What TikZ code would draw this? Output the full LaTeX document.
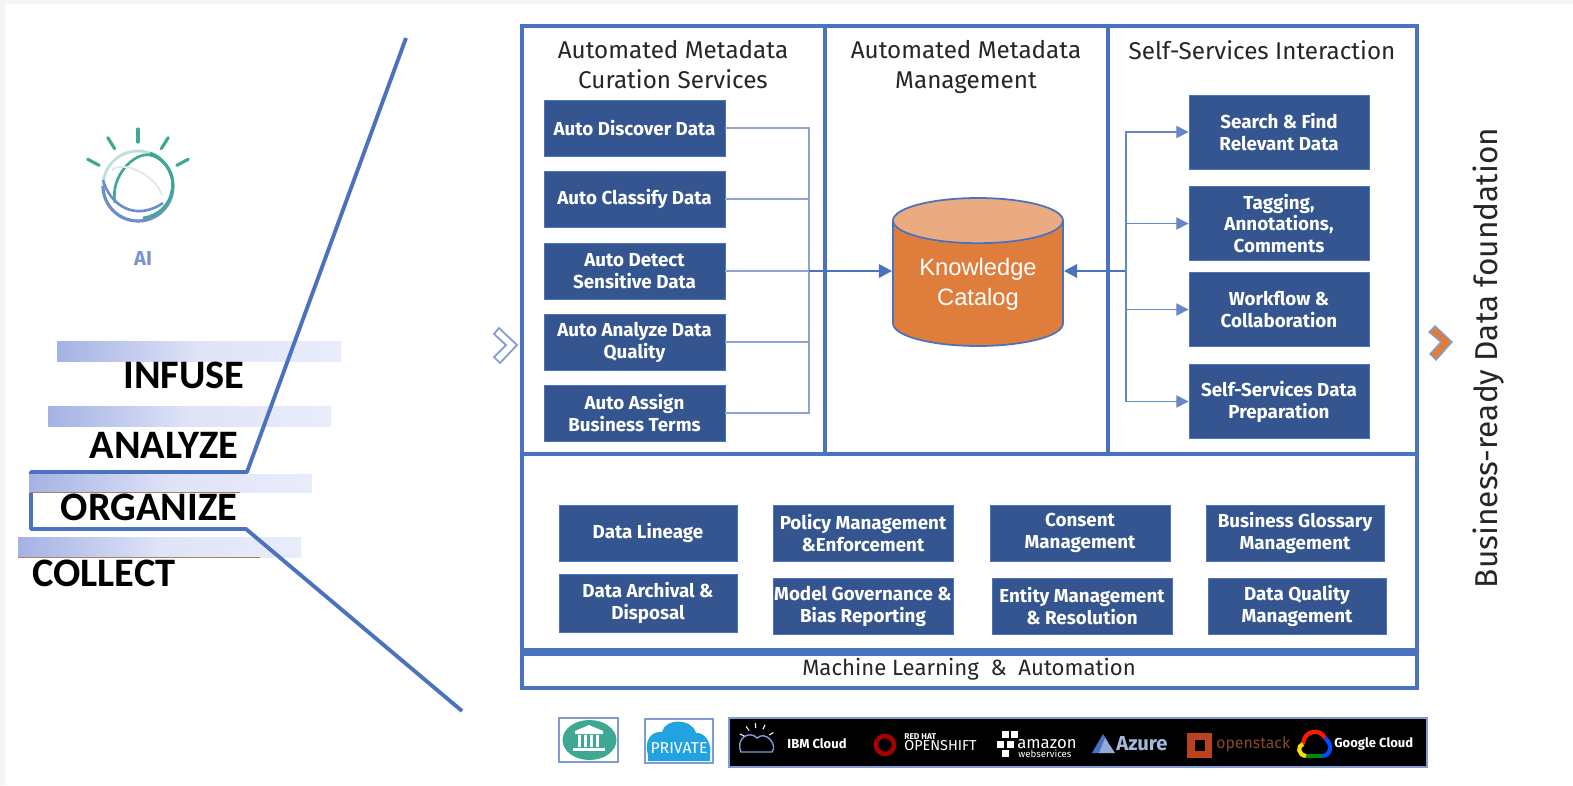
\documentclass[tikz,border=0pt]{standalone}
\usepackage{tikz}
\usepackage{xcolor}
\usepackage{fontspec}
\setmainfont{Fira Sans}
\newfontfamily\calfont{Carlito}
\newfontfamily\arialfont{Liberation Sans}
\usetikzlibrary{shapes}
\usetikzlibrary{arrows.meta}
\definecolor{framecol}{HTML}{4A72BE}
\definecolor{boxcol}{HTML}{34558F}
\definecolor{thincol}{HTML}{8FA5CF}
\definecolor{tealcol}{HTML}{3FA893}
\definecolor{orangecol}{HTML}{DF7E3C}
\definecolor{barcol}{HTML}{A4B2E4}
\definecolor{barend}{HTML}{E9ECFA}
\tikzset{
  framebox/.style={draw=framecol,line width=2.6pt},
  bluebox/.style={rectangle,fill=boxcol,draw=framecol,line width=.5pt,text=white,
    font=\bfseries\fontsize{10.7}{12.5}\selectfont,align=center,inner sep=0pt},
  headtext/.style={font=\fontsize{13.8}{17}\selectfont,align=center,text=black!85,anchor=north},
  stagebar/.style={left color=barcol,right color=barend,middle color=barend!85!barcol,draw=none},
  stagetext/.style={font=\calfont\bfseries\fontsize{23}{23}\selectfont,text=black},
  thinline/.style={draw=thincol,line width=.9pt},
  arrowline/.style={draw=framecol!85,line width=.8pt,-{Triangle[length=7pt,width=7pt]}},
  bigarrow/.style={draw=framecol,line width=1.6pt,-{Triangle[length=7.5pt,width=7.5pt]}},
  cloudtext/.style={text=white,font=\bfseries\fontsize{7.4}{8}\selectfont,inner sep=0pt},
  logobox/.style={draw=framecol!70,line width=1pt},
  rayline/.style={draw=tealcol,line width=1.8pt,line cap=round},
}
\newcommand{\boxat}[6]{\node [bluebox,minimum width=#3*.02cm,minimum height=#4*.02cm] (#5) at (#1,#2) {#6};}
\begin{document}
\begin{tikzpicture}[x=.02cm,y=-.02cm]
\useasboundingbox (0,0) rectangle (1573,785);
\fill[black!4] (0,0) rectangle (1573,785);
\fill[white] (5,4) rectangle (1573,785);
% stages on the left
\fill[stagebar] (57,341) rectangle (341,361);
\fill[stagebar] (48,406) rectangle (331,426);
\fill[stagebar] (18,537) rectangle (301,557);
\draw[orangecol!60!black!70,line width=.5pt] (18,557.5) -- (260,557.5);
\coordinate (slopetop) at (406,38);
\coordinate (sloperight) at (247,472);
\coordinate (slopeleft) at (31,472);
\coordinate (lowleft) at (31,529);
\coordinate (lowright) at (246,529);
\coordinate (slopeend) at (462,711);
\draw[framecol,line width=2.2pt,line join=round] (slopetop) -- (sloperight) -- (slopeleft) -- (lowleft) -- (lowright) -- (slopeend);
\fill[stagebar] (29,474.5) rectangle (312,492);
\draw[orangecol!60!black!70,line width=.5pt] (30,492.5) -- (240,492.5);
\node [stagetext] (infuse) at (184,375) {INFUSE};
\node [stagetext] (analyze) at (164,445) {ANALYZE};
\node [stagetext] (organize) at (149,507) {ORGANIZE};
\node [stagetext] (collect) at (104,573) {COLLECT};
% watson logo
\foreach \a in {152,122,90,58,28}
  \draw[rayline] (138,186) ++({44*cos(\a)},{-44*sin(\a)}) -- ++({13*cos(\a)},{-13*sin(\a)});
\draw[tealcol!35,line width=1.6pt] (138,186) circle [radius=35];
\draw[framecol!80,line width=1.8pt] (103,186) arc (180:0:35);
\draw[tealcol,line width=1.8pt] (173,186) arc (0:-70:35);
\draw[tealcol,line width=1.5pt] (115,203) .. controls (110,175) and (135,152) .. (150,155) .. controls (165,158) and (176,175) .. (172,190) .. controls (170,205) and (158,216) .. (143,218);
\draw[framecol!80,line width=1.5pt] (103,180) .. controls (110,205) and (135,222) .. (163,203);
\draw[black!10,line width=1pt] (112,170) .. controls (125,160) and (155,175) .. (162,195);
\node [text=framecol!75,font=\bfseries\fontsize{11.5}{14}\selectfont] (ai) at (143,258) {AI};
% chevrons
\draw[framecol!70,fill=white,line width=1pt] (494,334) -- (499,328) -- (517,345) -- (500,363) -- (494,357) -- (506,345) -- cycle;
\draw[framecol!70,fill=orangecol,line width=.8pt] (1429,332) -- (1435,326) -- (1452,342) -- (1436,360) -- (1430,354) -- (1441,342) -- cycle;
% frames
\draw[framebox] (522,26) rectangle (1417,650);
\draw[framebox] (522,454) -- (1417,454);
\draw[framebox] (825,26) -- (825,454);
\draw[framebox] (1108,26) -- (1108,454);
\draw[framebox] (522,654) rectangle (1417,688);
\node [headtext] (curationhead) at (673,34) {Automated Metadata\\Curation Services};
\node [headtext] (managehead) at (966,34) {Automated Metadata\\Management};
\node [headtext] (selfhead) at (1262,34) {Self-Services Interaction};
\node [font=\fontsize{12.6}{15}\selectfont,text=black!85] (mlhead) at (969,669) {Machine Learning\ \ \&\ \ Automation};
% boxes in the columns
\boxat{634.5}{128}{181}{56}{discover}{Auto Discover Data}
\boxat{634.5}{199}{181}{56}{classify}{Auto Classify Data}
\boxat{634.5}{271}{181}{56}{detect}{Auto Detect\\Sensitive Data}
\boxat{634.5}{342}{181}{56}{quality}{Auto Analyze Data\\Quality}
\boxat{634.5}{413}{181}{56}{terms}{Auto Assign\\Business Terms}
\boxat{1279}{132}{180}{74}{search}{Search \& Find\\Relevant Data}
\boxat{1279}{223.5}{180}{74}{tagging}{Tagging,\\Annotations,\\Comments}
\boxat{1279}{309.5}{180}{74}{workflow}{Workflow \&\\Collaboration}
\boxat{1279}{401.5}{180}{74}{prep}{Self-Services Data\\Preparation}
% boxes in the lower part
\boxat{648}{533}{178}{56}{lineage}{Data Lineage}
\boxat{863}{533}{180}{56}{policy}{Policy Management\\\&Enforcement}
\boxat{1080}{533}{180}{56}{consent}{Consent\\Management}
\boxat{1295}{533}{178}{56}{glossary}{Business Glossary\\Management}
\boxat{648}{603}{178}{58}{archival}{Data Archival \&\\Disposal}
\boxat{863}{606}{180}{56}{model}{Model Governance \&\\Bias Reporting}
\boxat{1082}{606}{180}{56}{entity}{Entity Management\\\& Resolution}
\boxat{1297}{606}{178}{56}{dquality}{Data Quality\\Management}
% catalog
\node [cylinder,shape border rotate=90,aspect=.35,minimum width=3.4cm,minimum height=2.96cm,draw=framecol,line width=1pt,
  cylinder uses custom fill,cylinder body fill=orangecol,cylinder end fill=orangecol!65!white,anchor=shape center,
  text=white,font=\arialfont\fontsize{13.5}{17}\selectfont,align=center] (catalog) at (978,272) {Knowledge\\Catalog\\[-10.2pt]\mbox{}};
% connectors
\coordinate (leftbus) at (809,271);
\coordinate (rightbus) at (1126,271);
\draw[thinline] (discover.east) -| (leftbus);
\draw[thinline] (classify.east) -| (leftbus);
\draw[thinline] (detect.east) -- (leftbus);
\draw[thinline] (quality.east) -| (leftbus);
\draw[thinline] (terms.east) -| (leftbus);
\draw[bigarrow] (leftbus) -- (catalog.west |- leftbus);
\draw[bigarrow] (rightbus) -- (catalog.east |- rightbus);
\draw[arrowline] (rightbus) |- (search.west);
\draw[arrowline] (rightbus) |- (tagging.west);
\draw[arrowline] (rightbus) |- (workflow.west);
\draw[arrowline] (rightbus) |- (prep.west);
% side text
\node [rotate=90,font=\fontsize{18}{22}\selectfont,text=black!85] (readytext) at (1489,358) {Business-ready Data foundation};
% logos at the bottom
\draw[logobox] (559,718) rectangle (618,762);
\fill[tealcol] (589.5,740) ellipse [x radius=27,y radius=20];
\fill[white] (575,731) -- (589,725) -- (603,731) -- (603,734) -- (575,734) -- cycle;
\foreach \x in {578,584,590,596}
  \fill[white] (\x,735) rectangle (\x+3,747);
\fill[white] (573,748) rectangle (605,751);
\draw[logobox] (645,719) rectangle (713,763);
\fill[blue!20!cyan!55!framecol] (648,755) .. controls (644,742) and (650,731) .. (662,732) .. controls (665,718) and (692,718) .. (696,733) .. controls (706,732) and (712,745) .. (710,755) -- (710,761) -- (648,761) -- cycle;
\node [text=white,font=\fontsize{9}{10}\selectfont,inner sep=0pt] (private) at (679,748) {PRIVATE};
\fill[black] (729,718) rectangle (1427,767);
\draw[logobox] (729,718) rectangle (1427,767);
\draw[framecol!70,line width=.8pt] (741,752) .. controls (735,738) and (750,730) .. (757,738) .. controls (766,730) and (778,745) .. (772,752) -- cycle;
\foreach \a in {30,65,95,125,155}
  \draw[white,line width=.6pt] (757,742) ++({14*cos(\a)},{-14*sin(\a)}) -- ++({5*cos(\a)},{-5*sin(\a)});
\node [cloudtext] (ibmcloud) at (817,744) {IBM Cloud};
\draw[red!65!black,line width=2.6pt] (885,745) circle [radius=9];
\node [cloudtext,font=\bfseries\fontsize{4.8}{5}\selectfont,anchor=west] (redhat) at (904,737) {RED HAT};
\node [cloudtext,font=\fontsize{8.2}{9}\selectfont,anchor=west] (openshift) at (904,746) {OPENSHIFT};
\foreach \x/\y in {1006/735,1015/735,1001/745,1011/745,1006/754}
  \fill[white] (\x-4,\y-4) rectangle (\x+3,\y+3);
\node [cloudtext,font=\fontsize{9.5}{10}\selectfont,anchor=west] (amazon) at (1017,744) {amazon};
\node [cloudtext,font=\fontsize{5.5}{6}\selectfont,anchor=west] (webservices) at (1018,754) {webservices};
\fill[framecol] (1092,753) -- (1103,734) -- (1108,742) -- (1101,753) -- cycle;
\fill[framecol!60!white] (1105,738) -- (1115,753) -- (1099,753) -- cycle;
\node [cloudtext,text=framecol!50!white,font=\fontsize{11.5}{12}\selectfont\bfseries,anchor=west] (azure) at (1116,744) {Azure};
\fill[orangecol!65!red!80!black] (1187,733) rectangle (1212,758);
\fill[black] (1195,740) rectangle (1205,751);
\node [cloudtext,text=orangecol!60!black,font=\fontsize{9}{9}\selectfont,anchor=west] (openstack) at (1216,744) {openstack};
\draw[red!80!orange,line width=2.4pt] (1303,744) .. controls (1304,730) and (1320,728) .. (1325,738);
\draw[blue!70!cyan,line width=2.4pt] (1325,738) .. controls (1334,745) and (1330,756) .. (1322,756);
\draw[green!55!black,line width=2.4pt] (1322,756) -- (1306,756);
\draw[yellow!80!orange,line width=2.4pt] (1306,756) .. controls (1298,755) and (1297,746) .. (1303,744);
\node [cloudtext,anchor=west] (google) at (1334,744) {Google Cloud};
\end{tikzpicture}
\end{document}
